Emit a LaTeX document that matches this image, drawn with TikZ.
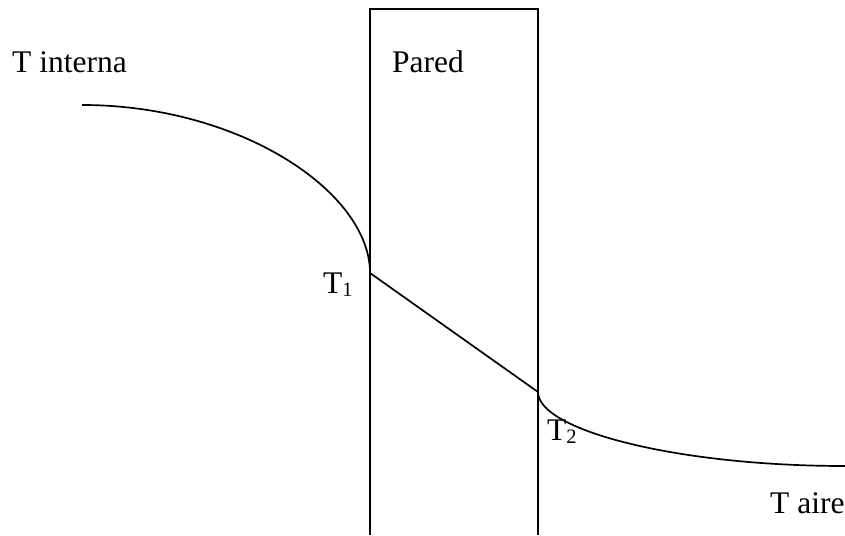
\documentclass[tikz,border=0pt]{standalone}
\usepackage{fontspec}
\setmainfont{Liberation Serif}
\begin{document}
\begin{tikzpicture}[x=1pt,y=-1pt,
  lbl/.style={inner sep=0pt,anchor=base west,font=\fontsize{31.5}{36}\selectfont},
  ln/.style={line width=1.7pt,black}]
\useasboundingbox (0,0) rectangle (845,535);
% wall
\coordinate (WBL) at (370,535);
\coordinate (WTL) at (370,9);
\coordinate (WTR) at (538,9);
\coordinate (WBR) at (538,535);
\draw[ln] (WBL) -- (WTL) -- (WTR) -- (WBR);
% temperature profile
\coordinate (A) at (82,105);
\coordinate (B) at (370,273);
\coordinate (C) at (538,392);
\coordinate (D) at (845,466);
\draw[ln] (A) .. controls (240,105) and (370,192) .. (B) -- (C)
  .. controls (538,430) and (676,466) .. (D);
% labels
\node[lbl] (tint) at (12,72) {T interna};
\node[lbl] (pared) at (392,72) {Pared};
\node[lbl] (t1) at (323,293) {T\raisebox{-3pt}{\fontsize{20.5}{22}\selectfont 1}};
\node[lbl] (t2) at (547,440) {T\raisebox{-3pt}{\fontsize{20.5}{22}\selectfont 2}};
\node[lbl] (taire) at (770,513) {T aire};
\end{tikzpicture}
\end{document}
